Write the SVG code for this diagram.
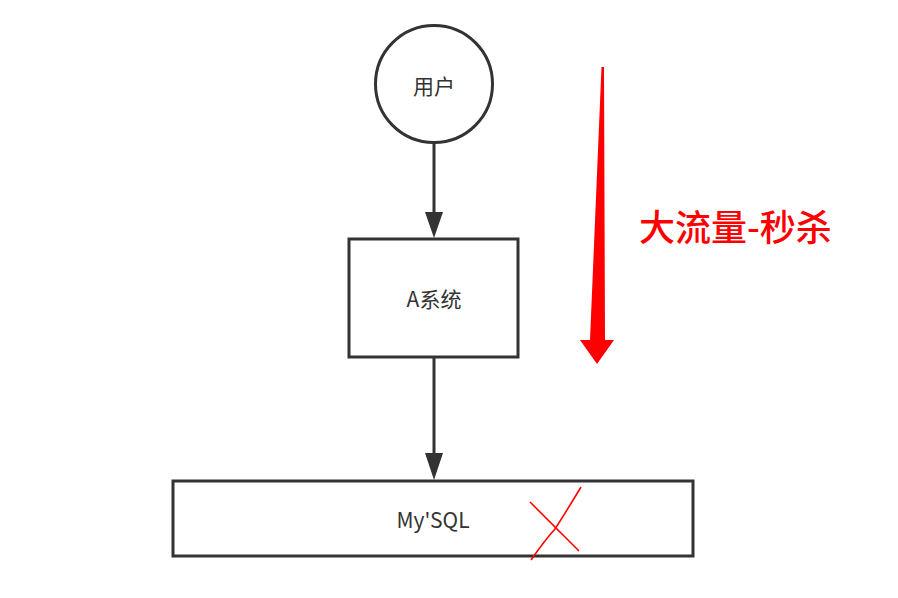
<svg xmlns="http://www.w3.org/2000/svg" width="898" height="598" viewBox="0 0 898 598">
<style>
.shape{fill:#fff;stroke:#333;stroke-width:3}
.lbl{font-family:"Noto Sans CJK SC","Noto Sans",sans-serif;font-size:21px;fill:#333;text-anchor:middle;dominant-baseline:central}
.conn{stroke:#333;stroke-width:3;fill:none}
.head{fill:#333}
.red{fill:#f00}
.big{font-family:"Noto Sans CJK SC","Noto Sans",sans-serif;font-size:36px;font-weight:500;fill:#f00}
</style>
<rect width="898" height="598" fill="#fff"/>
<g id="connectors">
<line class="conn" x1="434" y1="142" x2="434" y2="214"/>
<polygon class="head" points="425,212 443,212 434,238"/>
<line class="conn" x1="434" y1="357" x2="434" y2="455"/>
<polygon class="head" points="425,453 443,453 434,480"/>
</g>
<g id="user">
<circle class="shape" cx="434" cy="84" r="58.5"/>
<text class="lbl" x="434" y="85">用户</text>
</g>
<g id="systemA">
<rect class="shape" x="349" y="239" width="169" height="118"/>
<text class="lbl" x="434" y="298">A系统</text>
</g>
<g id="mysql">
<rect class="shape" x="173" y="481" width="520" height="75"/>
<text class="lbl" x="433" y="519">My'SQL</text>
<path d="M530,502 L579,551" fill="none" stroke="#f00" stroke-width="1.6"/>
<path d="M581,487 Q566,512 555,529 Q545,540 531,560" fill="none" stroke="#f00" stroke-width="1.6"/>
</g>
<g id="traffic">
<polygon class="red" points="601.5,67 604,67 605,340 614,340 597,364 580,340 590,340"/>
<text class="big" x="639" y="241">大流量-秒杀</text>
</g>
</svg>
